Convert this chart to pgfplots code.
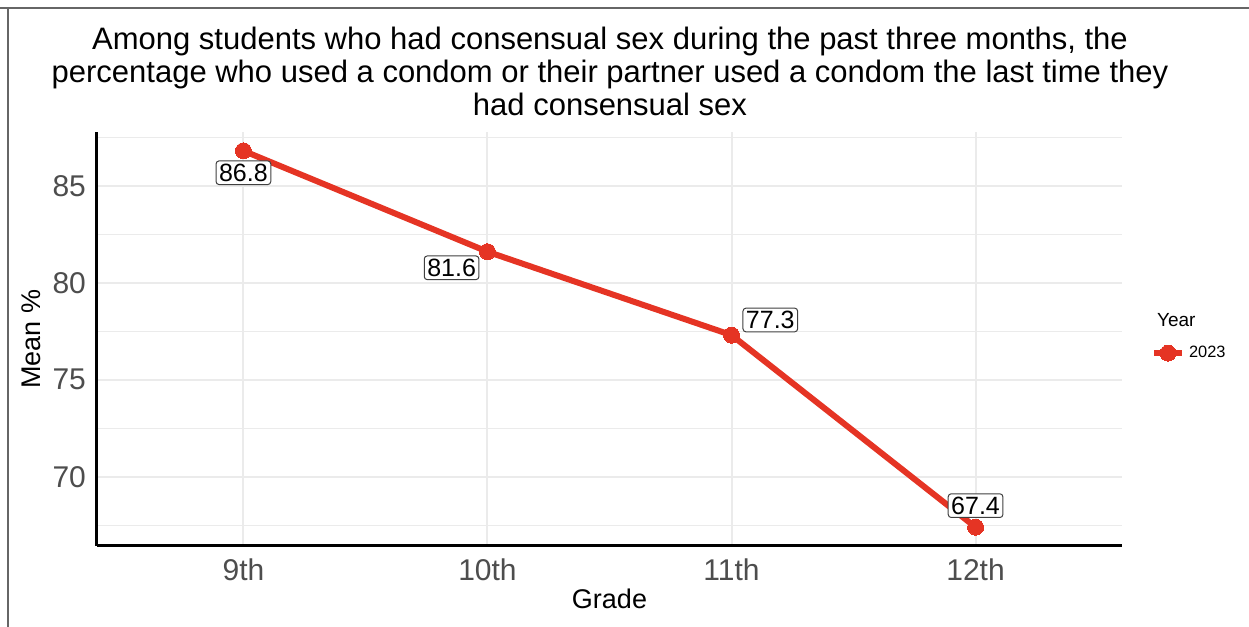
\documentclass[border=0pt]{standalone}
\usepackage{fontspec}
\setmainfont{Liberation Sans}
\usepackage{pgfplots}
\pgfplotsset{compat=1.18}

\definecolor{linered}{HTML}{E53424}
\definecolor{gridgray}{HTML}{EBEBEB}
\definecolor{ticktext}{HTML}{4D4D4D}

\begin{document}
\begin{tikzpicture}
  % page is 1249x627 px at 0.5pt per px
  \path[use as bounding box] (0,0) rectangle (624.5pt,313.5pt);
  % screenshot frame (top and left)
  \draw[gray!80!black, line width=1.2pt] (0,309.5pt) -- (624.5pt,309.5pt);
  \draw[gray!80!black, line width=1.2pt] (4pt,309.5pt) -- (4pt,0);

  \node[align=center, font=\fontsize{15.5}{16.5}\selectfont] at (305pt,278pt)
    {Among students who had consensual sex during the past three months, the\\
     percentage who used a condom or their partner used a condom the last time they\\
     had consensual sex};

  \begin{axis}[
    at={(48.5pt,40.5pt)}, anchor=south west,
    scale only axis,
    width=512.5pt, height=207pt,
    xmin=-0.6, xmax=3.6,
    ymin=66.43, ymax=87.77,
    axis x line*=bottom, axis y line*=left,
    axis line style={line width=1.5pt, black, -},
    xtick={0,1,2,3},
    xticklabels={9th,10th,11th,12th},
    ytick={70,75,80,85},
    minor ytick={67.5,72.5,77.5,82.5,87.5},
    major tick length=0pt, minor tick length=0pt,
    grid=both,
    major grid style={gridgray, line width=1pt},
    minor grid style={gridgray, line width=0.6pt},
    /pgf/number format/assume math mode=true,
    ticklabel style={font=\fontsize{15}{17}\selectfont, text=ticktext},
    yticklabel style={xshift=-2pt},
    xticklabel style={yshift=-3pt},
    xlabel={Grade},
    ylabel={Mean \%},
    label style={font=\fontsize{13.5}{15}\selectfont},
    xlabel style={yshift=3pt},
    ylabel style={yshift=-1pt},
    clip=false,
    legend style={at={(axis description cs:1.028,0.466)}, anchor=west,
      draw=none, fill=none, font=\fontsize{8.2}{9.5}\selectfont,
      inner sep=0pt},
    legend image code/.code={
      \draw[mark repeat=2, mark phase=2, #1]
        plot coordinates {(0pt,0pt) (7pt,0pt) (14pt,0pt)};},
  ]
    \addplot[linered, line width=3pt, mark=*, mark size=4pt,
      mark options={fill=linered, draw=linered, line width=0pt}]
      coordinates {(0,86.8) (1,81.6) (2,77.3) (3,67.4)};
    \addlegendentry{2023}

    \tikzset{vlab/.style={draw=black!75, fill=white, rounded corners=1.5pt,
      line width=0.5pt, inner sep=1.5pt, font=\fontsize{12.5}{14}\selectfont}}
    \node[vlab] at (axis cs:0,85.67) {86.8};
    \node[vlab] at (axis cs:0.853,80.77) {81.6};
    \node[vlab] at (axis cs:2.159,78.08) {77.3};
    \node[vlab] at (axis cs:3,68.51) {67.4};
  \end{axis}

  \node[anchor=west, font=\fontsize{9.5}{11}\selectfont] at (575pt,153.5pt) {Year};
\end{tikzpicture}
\end{document}
